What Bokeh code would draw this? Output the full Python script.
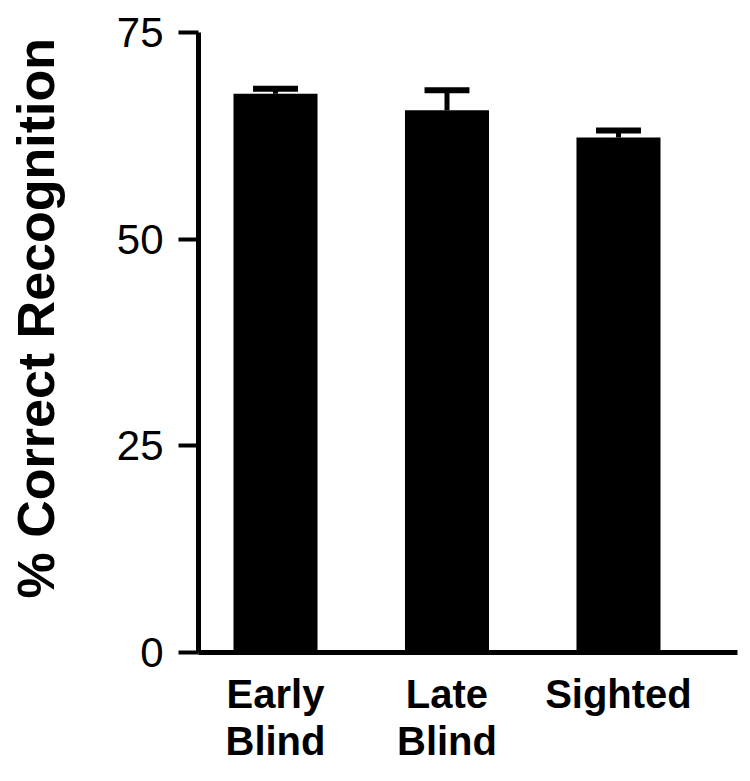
import numpy as np
from bokeh.plotting import figure
from bokeh.models import Range1d, FixedTicker, Title, LinearAxis
from bokeh.embed import file_html
from bokeh.resources import INLINE

categories = ["Early Blind", "Late Blind", "Sighted"]
tick_labels = ["Early\nBlind", "Late\nBlind", "Sighted"]
means = [67.6, 65.6, 62.3]
errors = [0.6, 2.4, 0.85]
y_ticks = [0, 25, 50, 75]
y_title = "% Correct Recognition"

xs = np.arange(len(categories))
tops = [m + e for m, e in zip(means, errors)]

FONT = "Liberation Sans"

p = figure(width=742, height=773, output_backend="svg", toolbar_location=None,
           x_range=Range1d(-0.449, 2.694), y_range=Range1d(0, 75),
           min_border_left=198, min_border_right=5, min_border_top=32, min_border_bottom=121)
p.outline_line_color = None
p.xgrid.visible = False
p.ygrid.visible = False

p.vbar(x=xs, top=means, bottom=0, width=0.49, fill_color="black", line_color=None)
p.segment(x0=xs, y0=means, x1=xs, y1=tops, line_color="black", line_width=5)
p.segment(x0=xs - 0.131, y0=tops, x1=xs + 0.131, y1=tops, line_color="black", line_width=6)

# y axis
ya = p.yaxis[0]
ya.ticker = FixedTicker(ticks=y_ticks)
ya.axis_line_width = 5
ya.major_tick_line_width = 4
ya.major_tick_out = 20
ya.major_tick_in = 0
ya.minor_tick_line_color = None
ya.major_label_standoff = 15
ya.major_label_text_font = FONT
ya.major_label_text_font_size = "42px"
ya.major_label_text_color = "black"

# blank (white) spacer axis that pushes the y title outward
spacer = LinearAxis(ticker=FixedTicker(ticks=[0]), axis_line_color=None,
                    major_tick_line_color="white", major_tick_line_width=1,
                    minor_tick_line_color=None,
                    major_tick_out=43, major_tick_in=0, major_label_standoff=0,
                    major_label_overrides={0: ""}, major_label_text_font_size="1px")
p.add_layout(spacer, "left")

# x axis
xa = p.xaxis[0]
xa.ticker = FixedTicker(ticks=list(xs))
xa.major_label_overrides = {int(i): t for i, t in zip(xs, tick_labels)}
xa.axis_line_width = 5
xa.major_tick_line_color = None
xa.minor_tick_line_color = None
xa.major_label_standoff = 13
xa.major_label_text_font = FONT
xa.major_label_text_font_style = "bold"
xa.major_label_text_font_size = "40px"
xa.major_label_text_line_height = 1.08
xa.major_label_text_color = "black"

t = Title(text=y_title, align="left", vertical_align="top", offset=54, standoff=8,
          text_font=FONT, text_font_style="bold", text_font_size="52px", text_color="black")
p.add_layout(t, "left")

open("out.html", "w").write(file_html(p, INLINE))
